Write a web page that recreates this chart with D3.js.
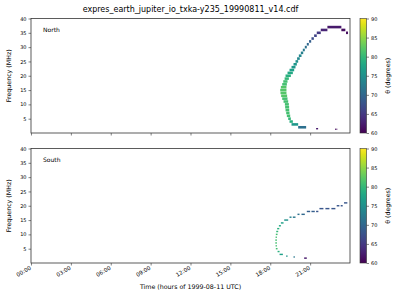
<!DOCTYPE html>
<html><head><meta charset="utf-8">
<script src="https://cdn.jsdelivr.net/npm/d3@7"></script>
<style>body{margin:0;background:#fff}svg{display:block}text{font-family:"DejaVu Sans",sans-serif;fill:#000}</style>
</head><body><svg id="c" width="400" height="300"></svg>
<script>
const title = "expres_earth_jupiter_io_txka-y235_19990811_v14.cdf";
const panelNames = ["North", "South"];
const xTickHours = [0, 3, 6, 9, 12, 15, 18, 21];
const xTickLabels = ["00:00","03:00","06:00","09:00","12:00","15:00","18:00","21:00"];
const yTicks = [5, 10, 15, 20, 25, 30, 35, 40];
const cbTicks = [60, 65, 70, 75, 80, 85, 90];

// North hemisphere: frequency channel (MHz), start/end time (hours UTC), theta (deg)
const northFreq  = [2, 3, 4, 5, 6, 7, 8, 9, 10, 11, 12, 13, 14, 15, 16, 17, 18, 19, 20, 21, 22, 23, 24, 25, 26, 27, 28, 29, 30, 31, 32, 33, 34, 35, 36, 37, 36, 35];
const northStart = [20.1, 19.6, 19.45, 19.35, 19.25, 19.2, 19.15, 19.12, 19.1, 19.0, 18.9, 18.82, 18.77, 18.75, 18.8, 18.9, 18.98, 19.08, 19.15, 19.3, 19.45, 19.6, 19.75, 19.9, 20.02, 20.15, 20.3, 20.45, 20.6, 20.75, 20.92, 21.1, 21.3, 21.5, 21.8, 22.3, 23.35, 23.7];
const northEnd   = [20.7, 20.1, 19.7, 19.55, 19.5, 19.45, 19.43, 19.42, 19.4, 19.35, 19.3, 19.27, 19.22, 19.22, 19.22, 19.25, 19.3, 19.4, 19.55, 19.7, 19.8, 19.9, 20.0, 20.1, 20.22, 20.35, 20.48, 20.6, 20.75, 20.9, 21.08, 21.28, 21.5, 21.8, 22.3, 23.35, 23.65, 23.85];
const northTheta = [71, 76, 79, 80, 81, 81, 81, 81, 81, 81, 81, 82, 82, 82, 82, 81, 81, 80, 79, 78, 77, 76, 76, 75, 74, 74, 73, 72, 71, 70, 69, 67, 66, 65, 63, 62, 61, 61];
// North low-frequency fragments
const northDotFreq  = [1.5, 1.3, 1.3];
const northDotStart = [21.45, 22.88, 22.98];
const northDotEnd   = [21.6, 22.93, 23.03];
const northDotTheta = [62, 61, 61];

// South hemisphere
const southFreq  = [3, 4, 5, 6, 7, 8, 9, 10, 11, 12, 13, 14, 15, 16, 16, 17, 17, 18, 18, 18, 19, 19, 19, 20, 20, 21];
const southStart = [18.7, 18.55, 18.42, 18.4, 18.38, 18.38, 18.4, 18.42, 18.45, 18.52, 18.65, 18.8, 19.05, 19.45, 19.7, 20.05, 20.35, 20.75, 21.1, 21.45, 21.7, 22.15, 22.6, 23.0, 23.3, 23.55];
const southEnd   = [18.95, 18.7, 18.55, 18.5, 18.5, 18.5, 18.5, 18.55, 18.6, 18.68, 18.8, 19.0, 19.35, 19.6, 19.9, 20.2, 20.6, 21.0, 21.35, 21.62, 22.0, 22.45, 22.9, 23.2, 23.45, 23.8];
const southTheta = [77, 79, 81, 81, 81, 81, 81, 81, 80, 79, 78, 77, 75, 73, 72, 71, 70, 69, 69, 68, 68, 68, 68, 68, 68, 68];
const southDotFreq  = [2.4, 2.1, 1.7];
const southDotStart = [19.2, 19.75, 20.55];
const southDotEnd   = [19.3, 19.85, 20.75];
const southDotTheta = [75, 72, 62];

const svg = d3.select("#c");
const L = 31, R = 350;
const panels = [{top: 18.5, bottom: 133}, {top: 148.5, bottom: 263}];
const x = d3.scaleLinear().domain([0, 24]).range([L, R]);
const color = d3.scaleSequential(d3.interpolateViridis).domain([60, 90]);

svg.append("text").attr("x", (L + R) / 2).attr("y", 12).attr("text-anchor", "middle")
  .style("font-size", "8px").text(title);

const datasets = [
  {f: northFreq, t0: northStart, t1: northEnd, th: northTheta, df: 0.9,
   df2: {f: northDotFreq, t0: northDotStart, t1: northDotEnd, th: northDotTheta}},
  {f: southFreq, t0: southStart, t1: southEnd, th: southTheta, df: 0.5,
   df2: {f: southDotFreq, t0: southDotStart, t1: southDotEnd, th: southDotTheta}}
];

panels.forEach((p, i) => {
  const y = d3.scaleLinear().domain([0, 40]).range([p.bottom, p.top]);
  const g = svg.append("g");
  const ds = datasets[i];
  const cells = ds.f.map((f, k) => ({f, t0: ds.t0[k], t1: ds.t1[k], th: ds.th[k]}));
  g.selectAll("rect.c").data(cells).join("rect")
    .attr("x", d => x(d.t0)).attr("width", d => Math.max(0.8, x(d.t1) - x(d.t0)))
    .attr("y", d => y(d.f + ds.df / 2)).attr("height", d => y(d.f - ds.df / 2) - y(d.f + ds.df / 2))
    .attr("fill", d => color(d.th));
  const dots = ds.df2.f.map((f, k) => ({f, t0: ds.df2.t0[k], t1: ds.df2.t1[k], th: ds.df2.th[k]}));
  g.selectAll("rect.d").data(dots).join("rect")
    .attr("x", d => x(d.t0)).attr("width", d => Math.max(0.8, x(d.t1) - x(d.t0)))
    .attr("y", d => y(d.f + 0.25)).attr("height", d => y(d.f - 0.25) - y(d.f + 0.25))
    .attr("fill", d => color(d.th));

  // frame
  svg.append("rect").attr("x", L).attr("y", p.top).attr("width", R - L).attr("height", p.bottom - p.top)
    .attr("fill", "none").attr("stroke", "#333").attr("stroke-width", 0.8);

  // y axis
  const ya = svg.append("g").attr("transform", `translate(${L},0)`)
    .call(d3.axisLeft(y).tickValues(yTicks).tickSize(2.5).tickPadding(2));
  ya.select(".domain").remove();
  ya.selectAll("line").attr("stroke", "#333").attr("stroke-width", 0.6);
  ya.selectAll("text").style("font-size", "5px").style("font-family", "DejaVu Sans");

  // x axis
  const xa = svg.append("g").attr("transform", `translate(0,${p.bottom})`)
    .call(d3.axisBottom(x).tickValues(xTickHours).tickSize(2.5).tickFormat((d, k) => i === 1 ? xTickLabels[k] : ""));
  xa.select(".domain").remove();
  xa.selectAll("line").attr("stroke", "#333").attr("stroke-width", 0.6);
  if (i === 1) {
    xa.selectAll("text").style("font-size", "5.5px").style("font-family", "DejaVu Sans")
      .attr("text-anchor", "end").attr("dy", null).attr("y", 0)
      .attr("transform", "translate(0,6) rotate(-30)");
  }

  svg.append("text").attr("transform", `translate(9,${(p.top + p.bottom) / 2}) rotate(-90)`)
    .attr("text-anchor", "middle").attr("dy", "0.35em").style("font-size", "6.3px").text("Frequency (MHz)");
  svg.append("text").attr("x", 43).attr("y", p.top + 13).style("font-size", "6px").text(panelNames[i]);

  // colorbar
  const cbX = 360, cbW = 6.5;
  const cy = d3.scaleLinear().domain([60, 90]).range([p.bottom, p.top]);
  const gid = "grad" + i;
  const grad = svg.append("defs").append("linearGradient").attr("id", gid)
    .attr("x1", 0).attr("y1", 1).attr("x2", 0).attr("y2", 0);
  d3.range(0, 1.001, 0.05).forEach(t => grad.append("stop").attr("offset", t).attr("stop-color", d3.interpolateViridis(t)));
  svg.append("rect").attr("x", cbX).attr("y", p.top).attr("width", cbW).attr("height", p.bottom - p.top)
    .attr("fill", `url(#${gid})`).attr("stroke", "#333").attr("stroke-width", 0.6);
  const ca = svg.append("g").attr("transform", `translate(${cbX + cbW},0)`)
    .call(d3.axisRight(cy).tickValues(cbTicks).tickSize(2.5).tickPadding(2));
  ca.select(".domain").remove();
  ca.selectAll("line").attr("stroke", "#333").attr("stroke-width", 0.6);
  ca.selectAll("text").style("font-size", "5px").style("font-family", "DejaVu Sans");
  svg.append("text").attr("transform", `translate(388,${(p.top + p.bottom) / 2}) rotate(-90)`)
    .attr("text-anchor", "middle").attr("dy", "0.35em").style("font-size", "6.3px").text("θ (degrees)");
});

svg.append("text").attr("x", (L + R) / 2).attr("y", 289).attr("text-anchor", "middle")
  .style("font-size", "6.3px").text("Time (hours of 1999-08-11 UTC)");
</script></body></html>
